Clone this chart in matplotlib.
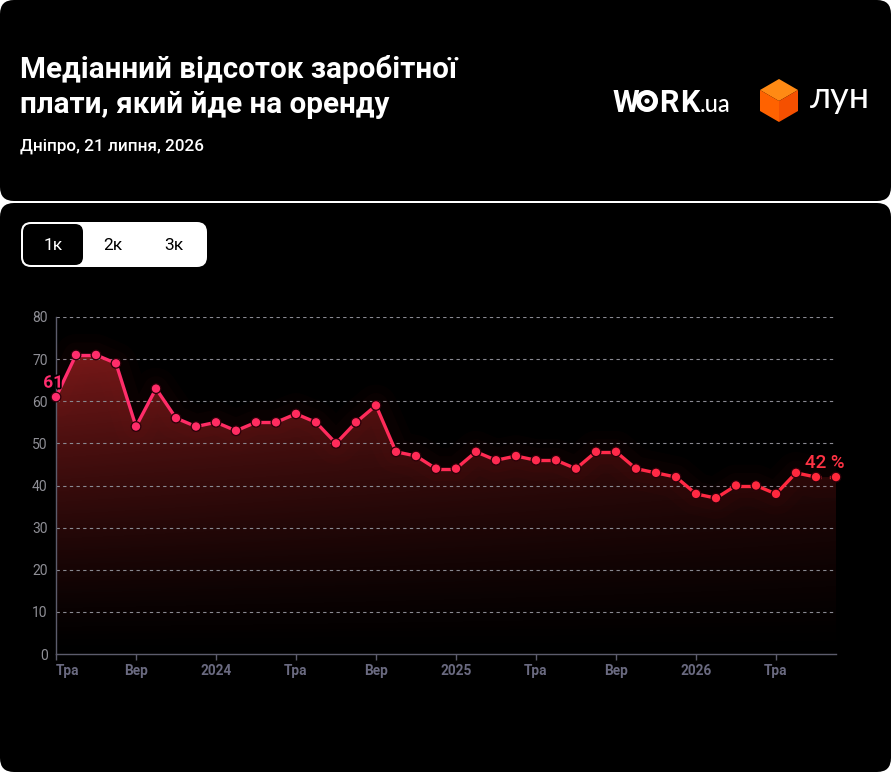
import numpy as np
import matplotlib
matplotlib.use('Agg')
import matplotlib.pyplot as plt
from matplotlib.patches import FancyBboxPatch, Polygon, Circle
from matplotlib.collections import LineCollection
import matplotlib.patheffects as pe

plt.rcParams['font.family'] = ['Roboto', 'DejaVu Sans']

# data: monthly median share of salary spent on rent (May 2023 .. Aug 2026)
values = [61, 71, 71, 69, 54, 63, 56, 54, 55, 53,
          55, 55, 57, 55, 50, 55, 59, 48, 47, 44,
          44, 48, 46, 47, 46, 46, 44, 48, 48, 44,
          43, 42, 38, 37, 40, 40, 38, 43, 42, 42]
tick_pos = [0, 4, 8, 12, 16, 20, 24, 28, 32, 36]
tick_labels = ['Тра', 'Вер', '2024', 'Тра', 'Вер', '2025', 'Тра', 'Вер', '2026', 'Тра']
y_ticks = [0, 10, 20, 30, 40, 50, 60, 70, 80]
toggle_labels = ['1к', '2к', '3к']

title_lines = ['Медіанний відсоток заробітної', 'плати, який йде на оренду']
subtitle = 'Дніпро, 21 липня, 2026'

W, H = 891, 772
fig = plt.figure(figsize=(W / 100, H / 100), dpi=100, facecolor='white')

# background axes in pixel coordinates
bg = fig.add_axes([0, 0, 1, 1])
bg.set_xlim(0, W)
bg.set_ylim(H, 0)
bg.axis('off')

bg.add_patch(FancyBboxPatch((0, 0), W, 201, boxstyle='round,pad=0,rounding_size=14',
                            fc='black', ec='none'))
bg.add_patch(FancyBboxPatch((0, 203), W, H - 203, boxstyle='round,pad=0,rounding_size=14',
                            fc='black', ec='none'))

bg.text(20, 78, title_lines[0], color='white', fontsize=21.3,
        fontweight='bold', va='baseline')
bg.text(20, 113, title_lines[1], color='white', fontsize=21.3,
        fontweight='bold', va='baseline')
bg.text(20, 151, subtitle, color='white', fontsize=12.3, fontweight='medium',
        va='baseline')

# WORK.ua logo
bg.text(626, 112, 'W', color='white', fontsize=22, fontweight='bold', ha='center',
        va='baseline')
bg.add_patch(Circle((647, 101), 8.5, fc='none', ec='white', lw=3.6))
bg.add_patch(Circle((647, 101), 2.6, fc='white', ec='none'))
bg.text(669, 112, 'R', color='white', fontsize=22, fontweight='bold', ha='center',
        va='baseline')
bg.text(690, 112, 'K', color='white', fontsize=22, fontweight='bold', ha='center',
        va='baseline')
bg.text(700, 112, '.ua', color='white', fontsize=17, fontweight='medium', ha='left',
        va='baseline', family='Lato')

# LUN cube
top = [(779, 79), (798, 90), (779, 101), (760, 90)]
left = [(760, 90), (779, 101), (779, 122), (760, 111)]
right = [(779, 101), (798, 90), (798, 111), (779, 122)]
bg.add_patch(Polygon(top, closed=True, fc='#ff8a14', ec='none'))
bg.add_patch(Polygon(left, closed=True, fc='#ff6200', ec='none'))
bg.add_patch(Polygon(right, closed=True, fc='#f55000', ec='none'))
bg.text(840, 108, 'лун', color='white', fontsize=26, ha='center', va='baseline',
        family='Lato')

# toggle
bg.add_patch(FancyBboxPatch((21, 222), 186, 45, boxstyle='round,pad=0,rounding_size=10',
                            fc='white', ec='none'))
bg.add_patch(FancyBboxPatch((23, 224), 60, 41, boxstyle='round,pad=0,rounding_size=8',
                            fc='black', ec='none'))
for i, lab in enumerate(toggle_labels):
    bg.text([53, 113, 174][i], 246, lab, color='white' if i == 0 else 'black',
            fontsize=12.5, ha='center', va='center')

# chart axes
left_px, right_px, top_px, bot_px = 56, 836, 317, 654
ax = fig.add_axes([left_px / W, 1 - bot_px / H, (right_px - left_px) / W,
                   (bot_px - top_px) / H])
ax.set_facecolor('none')
n = len(values)
x = np.arange(n)
y = np.array(values, dtype=float)
ax.set_xlim(0, n - 1)
ax.set_ylim(0, 80)

# gradient fill under the line
gx = np.linspace(0, n - 1, 400)
gy = np.linspace(0, 80, 300)
GX, GY = np.meshgrid(gx, gy)
inten = (GY / 80) ** 1.3 * (1 - 0.4 * GX / (n - 1))
img = np.zeros((300, 400, 4))
img[..., 0] = 0.58
img[..., 1] = 0.12
img[..., 2] = 0.12
img[..., 3] = np.clip(inten * 0.95, 0, 1)
poly = ax.fill_between(x, 0, y, color='none', lw=0)
im = ax.imshow(img, extent=[0, n - 1, 0, 80], origin='lower', aspect='auto',
               zorder=1, interpolation='bilinear')
im.set_clip_path(poly.get_paths()[0], transform=ax.transData)

# soft glow around the line
for lw, a in [(30, 0.03), (18, 0.04)]:
    ax.plot(x, y, color='#9a1a1a', lw=lw, alpha=a, solid_capstyle='round',
            solid_joinstyle='round', zorder=2)

# grid
for v in y_ticks[1:]:
    ax.axhline(v, color='#8a8a92', lw=0.8, ls=(0, (3, 3)), zorder=1.5)

# line with colour gradient
c0 = np.array([255, 45, 110]) / 255
c1 = np.array([255, 40, 58]) / 255
t = x / (n - 1)
cols = [tuple(c0 * (1 - ti) + c1 * ti) for ti in t]
segs = [[(x[i], y[i]), (x[i + 1], y[i + 1])] for i in range(n - 2)]
lc = LineCollection(segs, colors=cols[:-2], lw=2.4, zorder=3, capstyle='round')
ax.add_collection(lc)
ax.plot(x[-2:], y[-2:], color=cols[-1], lw=2.4, ls=(0, (1.5, 2.5)), zorder=3,
        clip_on=False)
ax.scatter(x, y, s=48, c=cols, edgecolors='#2a0008', linewidths=0.9, zorder=4,
           clip_on=False)

ax.annotate(str(values[0]), (x[0], y[0]), xytext=(-2, 10), textcoords='offset points',
            color='#ff2d6e', fontsize=12.5, fontweight='bold', ha='center', va='center',
            annotation_clip=False, zorder=5,
            path_effects=[pe.withStroke(linewidth=2.5, foreground='black')])
ax.annotate(f'{values[-1]} %', (x[-1], y[-1]), xytext=(-8, 10), textcoords='offset points',
            color='#ff3344', fontsize=13.5, fontweight='medium', ha='center', va='center',
            annotation_clip=False, zorder=5)

# axes styling
for s in ['top', 'right']:
    ax.spines[s].set_visible(False)
for s in ['left', 'bottom']:
    ax.spines[s].set_color('#5c5c6c')
    ax.spines[s].set_linewidth(1.0)
ax.set_yticks(y_ticks)
ax.tick_params(axis='y', length=0, pad=6, labelsize=10, labelcolor='#8f8f96')
ax.set_xticks(tick_pos)
ax.set_xticklabels(tick_labels)
ax.tick_params(axis='x', length=4, width=1, color='#5c5c6c', pad=3, labelsize=9.8,
               labelcolor='#6a6a80')
for lbl in ax.get_xticklabels():
    lbl.set_fontweight('bold')
ax.get_xticklabels()[0].set_horizontalalignment('left')

fig.savefig('out.png', dpi=100, facecolor='white')
